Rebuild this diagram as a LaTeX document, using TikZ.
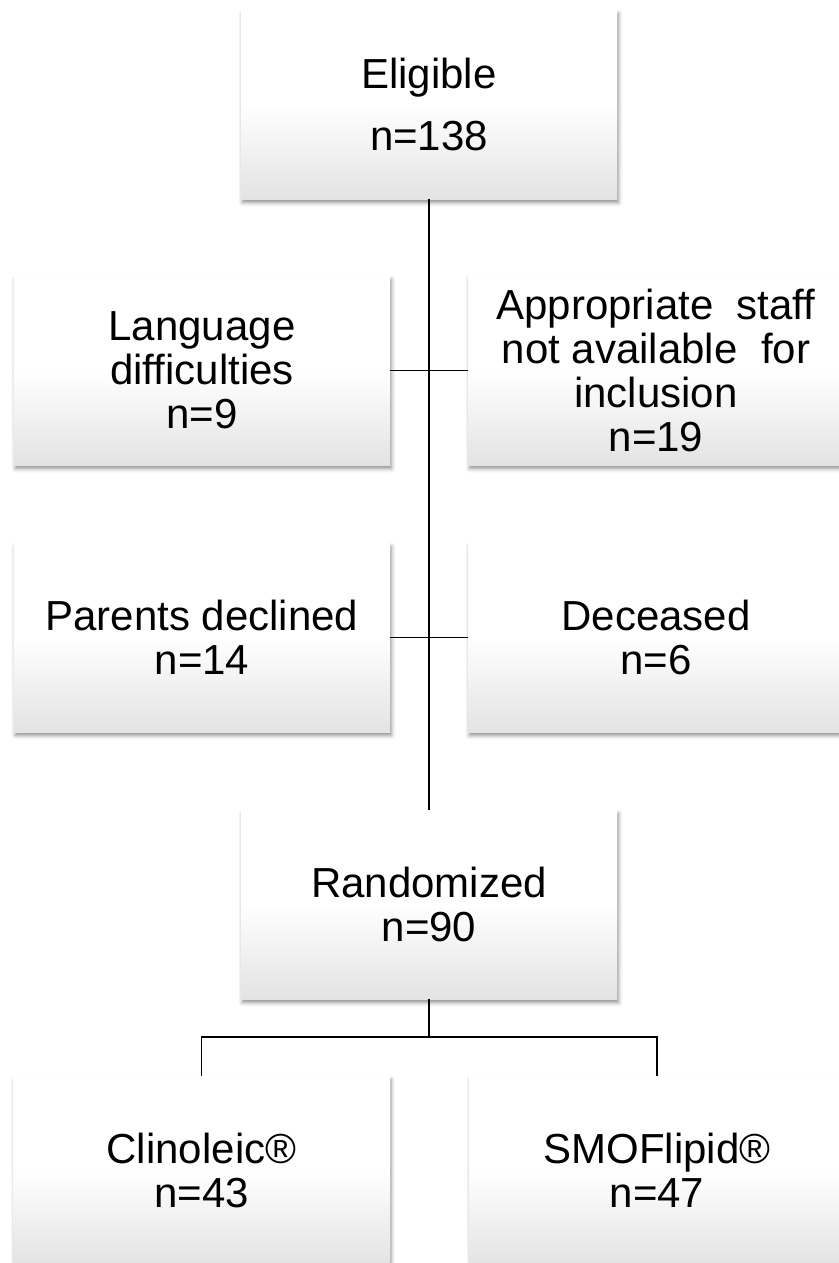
\documentclass[tikz,border=0pt]{standalone}
\usepackage{fontspec}
\setmainfont{Liberation Sans}
\usetikzlibrary{shadows.blur}
\tikzset{
  flowbox/.style={rectangle, minimum width=376pt, minimum height=189pt, inner sep=0pt,
    top color=white, bottom color=black!11, middle color=white,
    blur shadow={shadow xshift=1.5pt, shadow yshift=-3.5pt, shadow blur radius=4pt, shadow opacity=45},
    align=center, font=\fontsize{42}{44}\selectfont},
  link/.style={draw=black, line width=1.8pt}
}
\begin{document}
\begin{tikzpicture}[x=1pt,y=-1pt]
\useasboundingbox (0,0) rectangle (838,1263);
\node[flowbox] (elig) at (429,104.5) {Eligible\\[18pt]n=138};
\node[flowbox] (lang) at (202,370.5) {Language\\difficulties\\n=9};
\node[flowbox] (staff) at (656,370.5) {Appropriate\ \ staff\\not available\ \ for\\inclusion\\n=19};
\node[flowbox] (par) at (202,637.5) {Parents declined\\n=14};
\node[flowbox] (dec) at (656,637.5) {Deceased\\n=6};
\node[flowbox] (rand) at (429,904.5) {Randomized\\n=90};
\node[flowbox] (clin) at (201.5,1170.5) {Clinoleic®\\n=43};
\node[flowbox] (smof) at (657,1170.5) {SMOFlipid®\\n=47};
\coordinate (split) at (429,1037);
\draw[link] (elig.south) -- (rand.north);
\draw[link] (lang.east) -- (staff.west);
\draw[link] (par.east) -- (dec.west);
\draw[link] (rand.south) -- (split);
\draw[link] (clin.north) |- (split) -| (smof.north);
\end{tikzpicture}
\end{document}
